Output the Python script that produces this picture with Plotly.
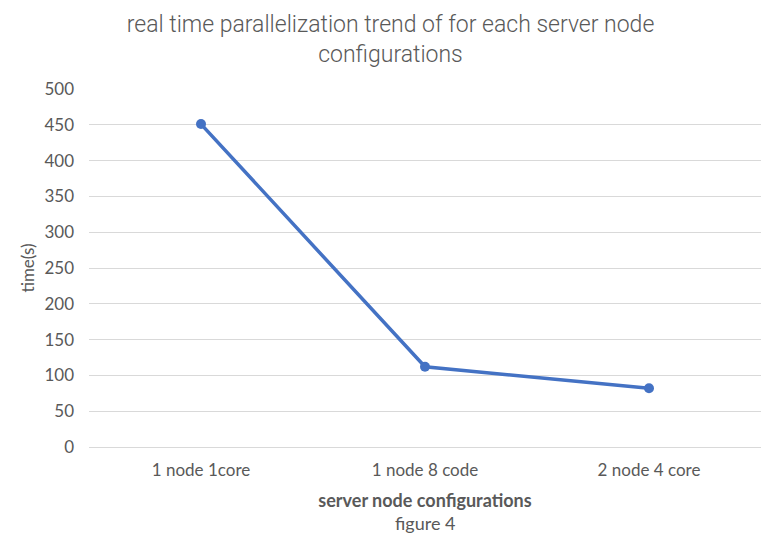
import plotly.graph_objects as go

categories = ["1 node 1core", "1 node 8 code", "2 node 4 core"]
times = [451, 112, 82]
y_ticks = [0, 50, 100, 150, 200, 250, 300, 350, 400, 450, 500]

fig = go.Figure()
fig.add_trace(go.Scatter(
    x=list(range(len(categories))), y=times, mode="lines+markers",
    line=dict(color="#4472C4", width=3.5),
    marker=dict(color="#4472C4", size=10),
    showlegend=False,
))

font_tick = "Lato, Open Sans, sans-serif"
fig.update_layout(
    width=781, height=552,
    paper_bgcolor="white", plot_bgcolor="white",
    margin=dict(l=89, r=20, t=89, b=105),
    title=dict(
        text="real time parallelization trend of for each server node<br>configurations",
        x=0.5, xanchor="center", y=0.942, yanchor="top",
        font=dict(family="Roboto", size=23, color="#595959", weight=300),
    ),
    xaxis=dict(
        tickmode="array", tickvals=list(range(len(categories))), ticktext=categories,
        range=[-0.5, 2.5], showgrid=False, zeroline=False,
        showline=True, linecolor="#D9D9D9", linewidth=1,
        ticks="", ticklabelstandoff=8,
        tickfont=dict(family=font_tick, size=17, color="#595959"),
        title=dict(text="<b>server node configurations</b>",
                   font=dict(family=font_tick, size=18, color="#595959"), standoff=14),
        automargin=False,
    ),
    yaxis=dict(
        range=[0, 500], tickvals=y_ticks, showgrid=True, gridcolor="#D9D9D9",
        zeroline=False, showline=False, ticks="", ticklabelstandoff=14,
        tickfont=dict(family=font_tick, size=17, color="#595959"),
        title=dict(text="time(s)", font=dict(family=font_tick, size=17, color="#595959"), standoff=5),
        automargin=False,
    ),
    annotations=[dict(
        text="figure 4", xref="paper", yref="paper", x=0.5, y=-0.212,
        xanchor="center", yanchor="middle", showarrow=False,
        font=dict(family=font_tick, size=18, color="#595959"),
    )],
)
fig.write_html("out.html", config={"displayModeBar": False},
               post_script="document.body.style.margin='0';")
